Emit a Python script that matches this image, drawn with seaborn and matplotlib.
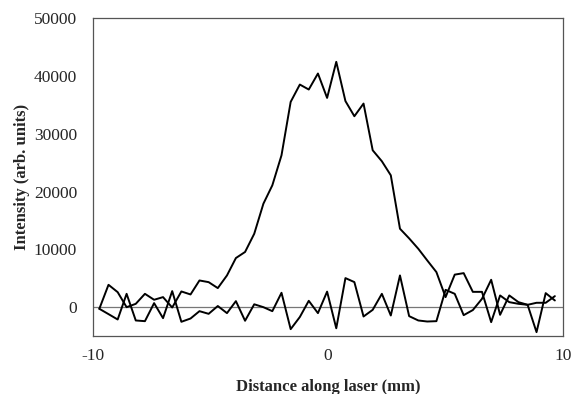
import matplotlib
matplotlib.use("Agg")
import matplotlib.pyplot as plt
import seaborn as sns
import pandas as pd

# sample positions along the laser (mm)
distance = [-9.73, -9.34, -8.95, -8.57, -8.18, -7.79, -7.40, -7.02, -6.63, -6.24,
            -5.85, -5.47, -5.08, -4.69, -4.30, -3.92, -3.53, -3.14, -2.75, -2.37,
            -1.98, -1.59, -1.20, -0.82, -0.43, -0.04, 0.35, 0.74, 1.12, 1.51,
            1.90, 2.29, 2.67, 3.06, 3.45, 3.84, 4.22, 4.61, 5.00, 5.39,
            5.77, 6.16, 6.55, 6.94, 7.32, 7.71, 8.10, 8.49, 8.87, 9.26, 9.65]

# emission profile
signal = [-280, 3870, 2600, 0, 580, 2310, 1280, 1740, -60, 2720,
          2200, 4620, 4330, 3300, 5490, 8500, 9550, 12700, 17900, 21080,
          26270, 35510, 38510, 37650, 40420, 36200, 42440, 35650, 33030, 35220,
          27140, 25240, 22810, 13570, 11900, 10100, 8090, 6070, 1740, 5630,
          5890, 2650, 2650, -2590, 2030, 870, 580, 410, -4320, 2430, 1160]

# background
background = [-280, -1200, -2130, 2310, -2300, -2420, 700, -1900, 2780, -2530,
              -1960, -690, -1150, 200, -1030, 1045, -2350, 500, 0, -690,
              2490, -3800, -1700, 1100, -1030, 2690, -3650, 5030, 4340, -1610,
              -460, 2310, -1440, 5490, -1550, -2300, -2480, -2420, 3000, 2310,
              -1380, -500, 1450, 4740, -1320, 2030, 870, 410, 760, 760, 1910]

df_sig = pd.DataFrame({"x": distance, "y": signal})
df_bg = pd.DataFrame({"x": distance, "y": background})

sns.set_style("white")
plt.rcParams['font.family'] = ['Liberation Serif', 'DejaVu Serif']

fig = plt.figure(figsize=(5.74, 3.94), dpi=100)
ax = fig.add_axes([0.162, 0.147, 0.819, 0.807])

ax.axhline(0, color="#777777", lw=0.9, zorder=1)
sns.lineplot(data=df_sig, x="x", y="y", sort=False, color="black", lw=1.4, ax=ax, zorder=3)
sns.lineplot(data=df_bg, x="x", y="y", sort=False, color="black", lw=1.4, ax=ax, zorder=3)

ax.set_xlim(-10, 10)
ax.set_ylim(-5000, 50000)
ax.set_xticks([-10, 0, 10])
ax.set_yticks([0, 10000, 20000, 30000, 40000, 50000])
ax.set_xticklabels(["-10", "0", "10"])
ax.set_yticklabels(["0", "10000", "20000", "30000", "40000", "50000"])

for s in ax.spines.values():
    s.set_visible(True)
    s.set_color("#555555")
    s.set_linewidth(0.9)

ax.tick_params(axis="both", direction="out", length=4.5, width=0.9, color="#555555",
               labelsize=12.5)
ax.tick_params(axis="y", pad=7)
ax.tick_params(axis="x", pad=4)

ax.set_xlabel("Distance along laser (mm)", fontsize=12, fontweight="bold", labelpad=11)
ax.set_ylabel("Intensity (arb. units)", fontsize=12, fontweight="bold", labelpad=3)

fig.savefig("out.png", dpi=100)
